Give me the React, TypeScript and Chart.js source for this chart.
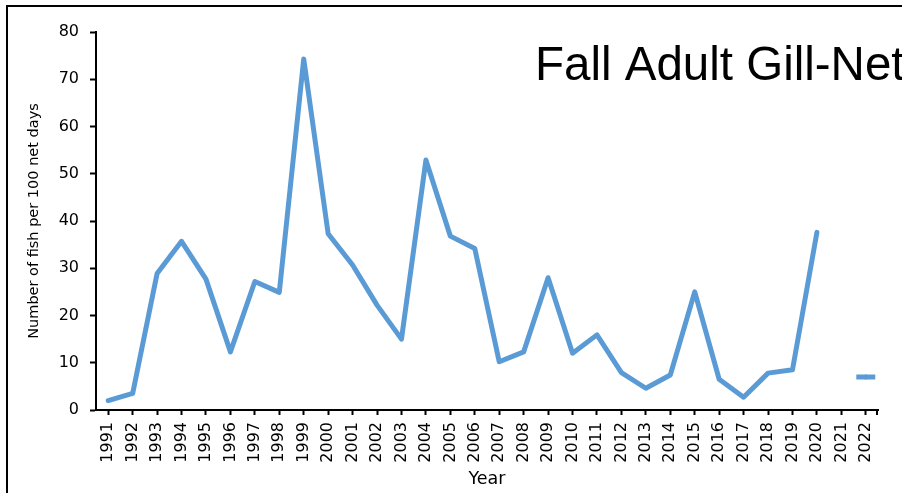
import React, { useEffect, useRef } from "react";
import { Chart, registerables } from "chart.js";

Chart.register(...registerables);

const years: string[] = [
  "1991", "1992", "1993", "1994", "1995", "1996", "1997", "1998", "1999", "2000",
  "2001", "2002", "2003", "2004", "2005", "2006", "2007", "2008", "2009", "2010",
  "2011", "2012", "2013", "2014", "2015", "2016", "2017", "2018", "2019", "2020",
  "2021", "2022",
];

const fishPer100NetDays: (number | null)[] = [
  2.0, 3.5, 28.9, 35.7, 27.7, 12.3, 27.2, 24.9, 74.3, 37.3,
  30.7, 22.2, 15.0, 52.9, 36.8, 34.2, 10.2, 12.3, 28.0, 12.0,
  15.9, 7.9, 4.6, 7.4, 25.0, 6.5, 2.7, 7.8, 8.5, 37.6,
  null, 7.0,
];

const yTicks: number[] = [0, 10, 20, 30, 40, 50, 60, 70, 80];

const chartTitle = "Fall Adult Gill-Net";
const yTitle = "Number of fish per 100 net days";
const xTitle = "Year";

const LINE_COLOR = "#5B9BD5";
const FONT = '"DejaVu Sans", sans-serif';

const titlePlugin = {
  id: "insideTitle",
  afterDatasetsDraw(chart: any) {
    const { ctx } = chart;
    ctx.save();
    ctx.font = '47.5px "Liberation Sans", Arial, sans-serif';
    ctx.fillStyle = "#000";
    ctx.textAlign = "left";
    ctx.textBaseline = "alphabetic";
    ctx.fillText(chartTitle, 535, 80);
    ctx.restore();
  },
};

const axisEndTickPlugin = {
  id: "axisEndTick",
  afterDraw(chart: any) {
    const { ctx, chartArea } = chart;
    ctx.save();
    ctx.strokeStyle = "#000";
    ctx.lineWidth = 2;
    ctx.beginPath();
    ctx.moveTo(chartArea.right - 1, chartArea.bottom);
    ctx.lineTo(chartArea.right - 1, chartArea.bottom + 5);
    ctx.stroke();
    ctx.restore();
  },
};

export default function App() {
  const canvasRef = useRef<HTMLCanvasElement | null>(null);

  useEffect(() => {
    if (!canvasRef.current) return;
    const chart = new Chart(canvasRef.current, {
      type: "line",
      data: {
        labels: years,
        datasets: [
          {
            data: fishPer100NetDays,
            borderColor: LINE_COLOR,
            backgroundColor: LINE_COLOR,
            borderWidth: 5,
            borderJoinStyle: "round",
            borderCapStyle: "round",
            tension: 0,
            spanGaps: false,
            pointStyle: "line",
            pointRadius: (ctx: any) => (ctx.dataIndex === years.length - 1 ? 9.5 : 0),
            pointHoverRadius: 0,
            pointBorderColor: LINE_COLOR,
            pointBorderWidth: 5,
          },
        ],
      },
      options: {
        animation: false,
        responsive: true,
        maintainAspectRatio: false,
        layout: { padding: { left: 0, top: 32, right: 24, bottom: 0 } },
        plugins: {
          legend: { display: false },
          tooltip: { enabled: false },
          title: { display: false },
        },
        scales: {
          x: {
            type: "category",
            offset: true,
            grid: {
              display: true,
              offset: false,
              drawOnChartArea: false,
              drawTicks: true,
              tickLength: 5,
              tickWidth: 2,
              tickColor: "#000",
            },
            border: { display: true, color: "#000", width: 2 },
            ticks: {
              color: "#000",
              font: { family: FONT, size: 16 },
              minRotation: 90,
              maxRotation: 90,
              autoSkip: false,
              padding: 7,
            },
            title: {
              display: true,
              text: xTitle,
              color: "#000",
              font: { family: FONT, size: 17.5 },
              padding: { top: 0, bottom: 3 },
            },
            afterFit(scale: any) {
              scale.height = 83;
            },
          },
          y: {
            min: 0,
            max: 80,
            afterBuildTicks(scale: any) {
              scale.ticks = yTicks.map((v) => ({ value: v }));
            },
            grid: {
              display: true,
              drawOnChartArea: false,
              drawTicks: true,
              tickLength: 6,
              tickWidth: 2,
              tickColor: "#000",
            },
            border: { display: true, color: "#000", width: 2 },
            ticks: {
              color: "#000",
              font: { family: FONT, size: 16 },
              padding: 11,
            },
            title: {
              display: true,
              text: yTitle,
              color: "#000",
              font: { family: FONT, size: 14.5 },
              padding: { top: 26, bottom: 0 },
            },
            afterFit(scale: any) {
              scale.width = 96;
            },
          },
        },
      },
      plugins: [titlePlugin, axisEndTickPlugin],
    } as any);
    return () => chart.destroy();
  }, []);

  return (
    <div
      style={{
        position: "fixed",
        left: 0,
        top: 0,
        width: 902,
        height: 493,
        overflow: "hidden",
        background: "#fff",
      }}
    >
      <div
        style={{
          position: "absolute",
          left: 6,
          top: 5,
          width: 2000,
          height: 2000,
          border: "2px solid #000",
          boxSizing: "border-box",
        }}
      />
      <div style={{ position: "absolute", left: 0, top: 0, width: 902, height: 493 }}>
        <canvas ref={canvasRef} />
      </div>
    </div>
  );
}
